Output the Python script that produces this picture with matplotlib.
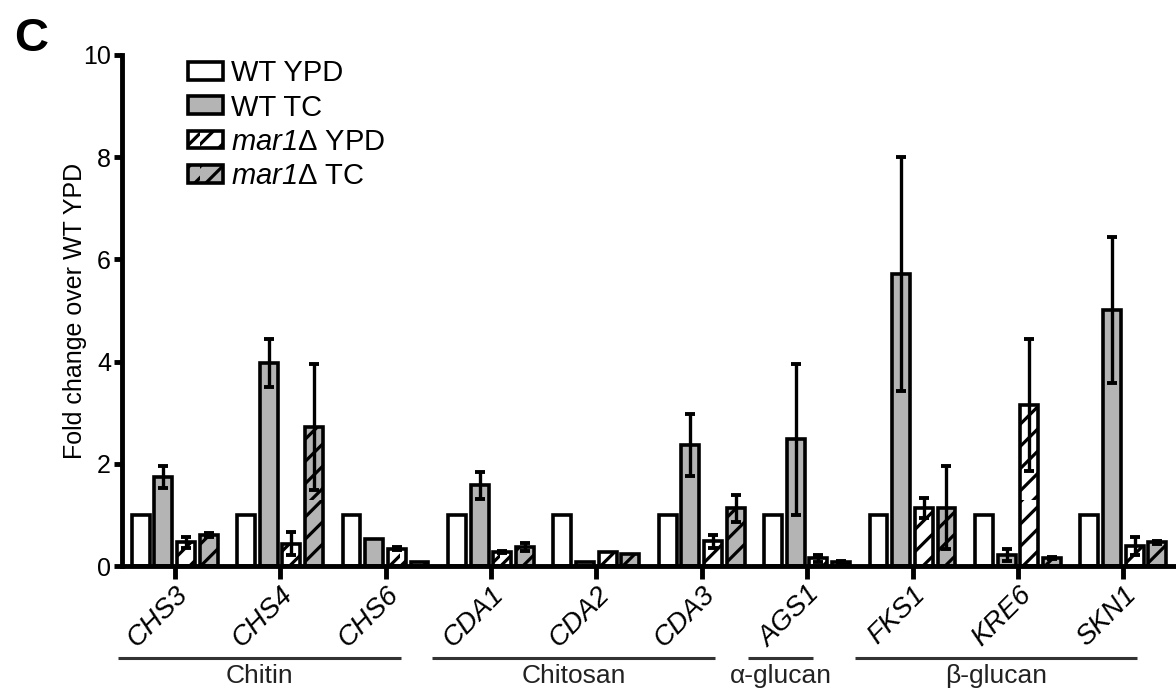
import matplotlib
matplotlib.use("Agg")
import matplotlib.pyplot as plt
import matplotlib.transforms as mtransforms
import matplotlib.hatch as mhatch
import numpy as np

plt.rcParams['font.family'] = ['Liberation Sans', 'DejaVu Sans']
plt.rcParams['mathtext.fontset'] = 'custom'
plt.rcParams['mathtext.rm'] = 'Liberation Sans:italic'
plt.rcParams['mathtext.it'] = 'Liberation Sans:italic'
plt.rcParams['hatch.linewidth'] = 2.3

# sparser diagonal hatch lines, closer to the reference stripe spacing
_orig_ne_init = mhatch.NorthEastHatch.__init__
def _ne_init(self, hatch, density):
    _orig_ne_init(self, hatch, density)
    self.num_lines = int(round(self.num_lines * 0.75))
    self.num_vertices = (self.num_lines + 1) * 2 if self.num_lines else 0
mhatch.NorthEastHatch.__init__ = _ne_init

genes = ['CHS3', 'CHS4', 'CHS6', 'CDA1', 'CDA2', 'CDA3', 'AGS1', 'FKS1', 'KRE6', 'SKN1']
series = ['WT YPD', 'WT TC', r'$\mathrm{mar1}$Δ YPD', r'$\mathrm{mar1}$Δ TC']

wt_ypd = [1.0, 1.0, 1.0, 1.0, 1.0, 1.0, 1.0, 1.0, 1.0, 1.0]
wt_tc = [1.74, 3.97, 0.52, 1.58, 0.07, 2.37, 2.48, 5.71, 0.22, 5.01]
mar1_ypd = [0.46, 0.44, 0.34, 0.28, 0.27, 0.48, 0.15, 1.14, 3.15, 0.39]
mar1_tc = [0.61, 2.72, 0.08, 0.37, 0.24, 1.13, 0.08, 1.14, 0.15, 0.46]

err_wt_ypd = [0, 0, 0, 0, 0, 0, 0, 0, 0, 0]
err_wt_tc = [0.21, 0.47, 0.0, 0.26, 0.0, 0.60, 1.48, 2.29, 0.12, 1.43]
err_mar1_ypd = [0.10, 0.23, 0.03, 0.02, 0.0, 0.13, 0.07, 0.20, 1.29, 0.18]
err_mar1_tc = [0.04, 1.23, 0.0, 0.08, 0.0, 0.26, 0.02, 0.81, 0.02, 0.02]

groups = ['Chitin', 'Chitosan', 'α-glucan', 'β-glucan']
group_spans = [(-0.54, 2.15), (2.44, 5.13), (5.44, 6.06), (6.45, 9.13)]

values = [wt_ypd, wt_tc, mar1_ypd, mar1_tc]
errors = [err_wt_ypd, err_wt_tc, err_mar1_ypd, err_mar1_tc]
faces = ['white', '#b4b4b4', 'white', '#b4b4b4']
hatches = [None, None, '//', '//']

fig = plt.figure(figsize=(11.76, 6.9), dpi=100)
ax = fig.add_axes([122/1176, 1-566/690, 1-122/1176, (566-55)/690])

x = np.arange(len(genes))
step = 0.215
width = 0.17
handles = []
for i in range(4):
    pos = x + (i - 1.5) * step
    b = ax.bar(pos, values[i], width, color=faces[i], edgecolor='black',
               linewidth=2.6, hatch=hatches[i], label=series[i], zorder=2)
    handles.append(b)
    e = np.array(errors[i], dtype=float)
    m = e > 0
    if m.any():
        ax.errorbar(pos[m], np.array(values[i])[m], yerr=e[m], fmt='none',
                    ecolor='black', elinewidth=2.4, capsize=3.5, capthick=2.8,
                    zorder=3)

ax.set_xlim(-0.5, 9.5)
ax.set_ylim(0, 10)
ax.set_yticks([0, 2, 4, 6, 8, 10])
ax.set_xticks(x)
ax.set_xticklabels([])
for sp in ['top', 'right']:
    ax.spines[sp].set_visible(False)
for sp in ['left', 'bottom']:
    ax.spines[sp].set_linewidth(3.5)
ax.tick_params(axis='y', width=3.5, length=6, labelsize=18, pad=2)
ax.tick_params(axis='x', width=3.5, length=9)
ax.set_ylabel('Fold change over WT YPD', fontsize=18, labelpad=-3)

trans = mtransforms.blended_transform_factory(ax.transData, ax.transAxes)
lab_off = mtransforms.ScaledTranslation(9/100, -25/100, fig.dpi_scale_trans)
for xi, g in zip(x, genes):
    ax.text(xi, 0, g, transform=trans + lab_off, rotation=45, ha='right',
            va='center', rotation_mode='anchor', fontstyle='italic',
            fontsize=20)

for name, (a, b) in zip(groups, group_spans):
    ax.plot([a, b], [-0.180, -0.180], color='#333333', lw=2.2, transform=trans,
            clip_on=False, solid_capstyle='butt')
    ax.text((a + b) / 2, -0.192, name, transform=trans, ha='center',
            va='top', fontsize=19, color='#222222')

ax.legend(handles=handles, loc='upper left', bbox_to_anchor=(0.063, 0.992),
          frameon=False, fontsize=21, handlelength=1.2, handleheight=0.55,
          handletextpad=0.25, labelspacing=0.22, borderpad=0, borderaxespad=0)

fig.text(0.012, 0.975, 'C', fontsize=34, fontweight='bold', va='top', ha='left')

fig.savefig('out.png', dpi=100)
